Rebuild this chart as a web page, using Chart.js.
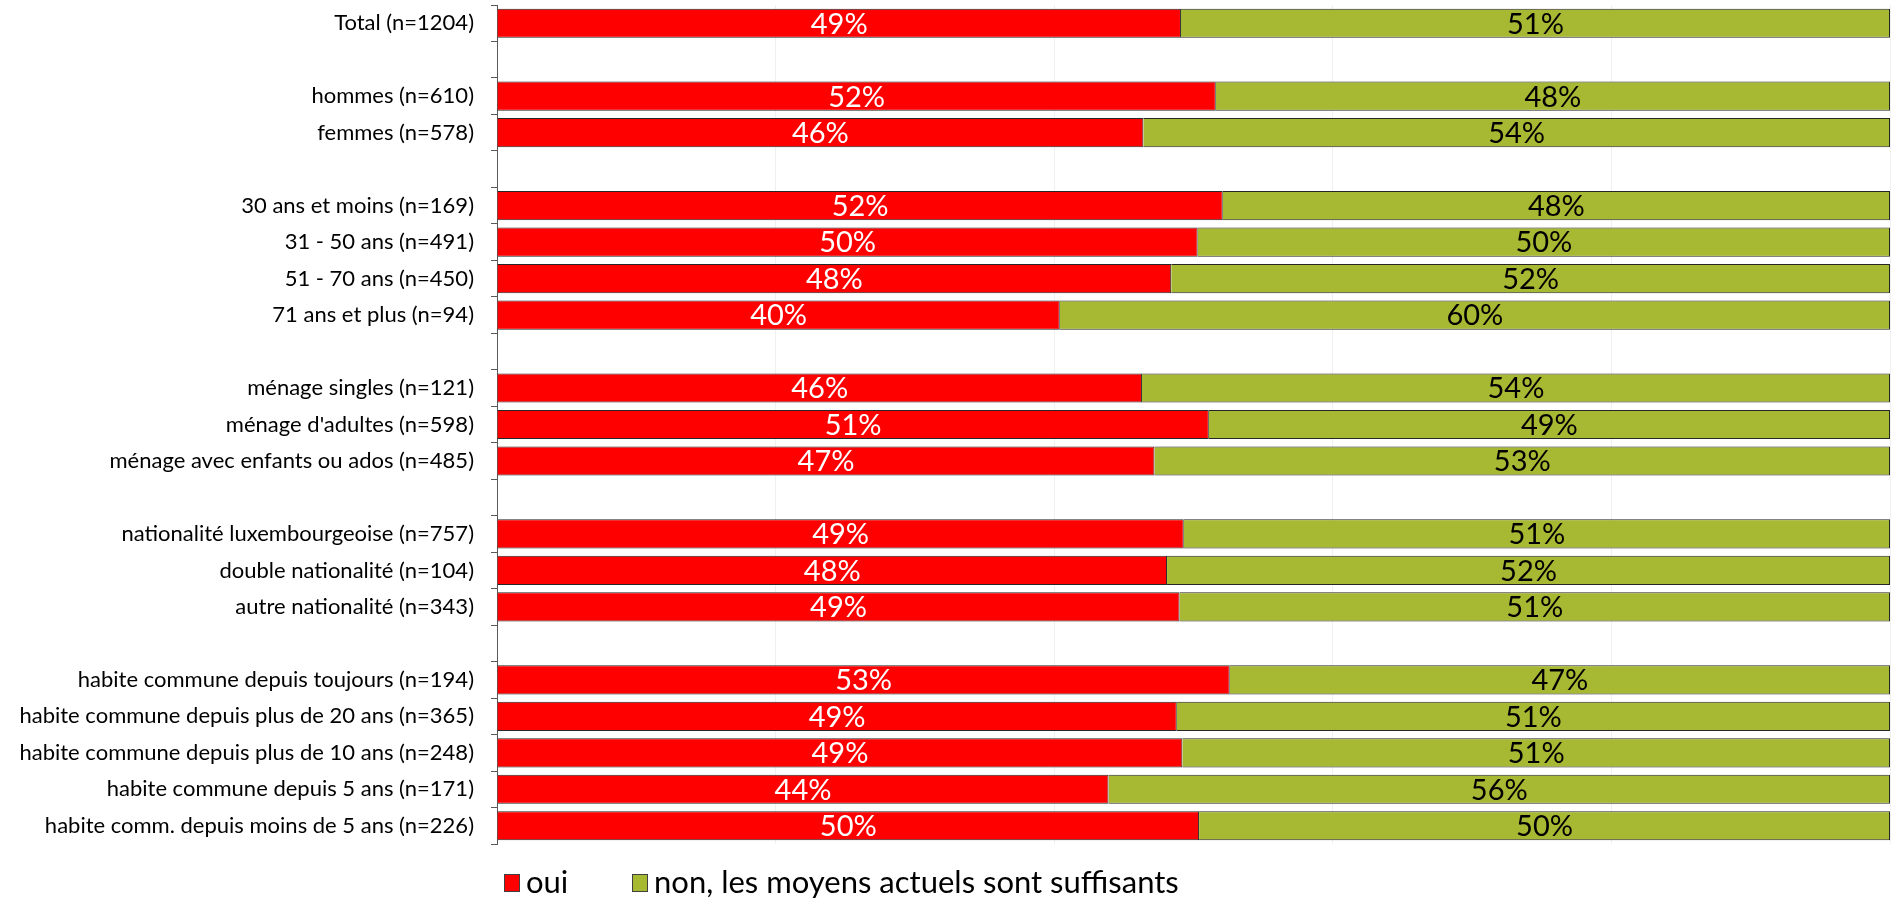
<!DOCTYPE html>
<html>
<head>
<meta charset="utf-8">
<script src="https://cdn.jsdelivr.net/npm/chart.js@4.4.1/dist/chart.umd.min.js"></script>
<style>
html, body { margin: 0; padding: 0; background: #fff; }
</style>
</head>
<body>
<canvas id="chart" width="1891" height="899"></canvas>
<script>
//Chart data ('' entries are the blank spacer rows between groups)
const categories = [
    'Total (n=1204)',
    '',
    'hommes (n=610)',
    'femmes (n=578)',
    '',
    '30 ans et moins (n=169)',
    '31 - 50 ans (n=491)',
    '51 - 70 ans (n=450)',
    '71 ans et plus (n=94)',
    '',
    'ménage singles (n=121)',
    "ménage d'adultes (n=598)",
    'ménage avec enfants ou ados (n=485)',
    '',
    'nationalité luxembourgeoise (n=757)',
    'double nationalité (n=104)',
    'autre nationalité (n=343)',
    '',
    'habite commune depuis toujours (n=194)',
    'habite commune depuis plus de 20 ans (n=365)',
    'habite commune depuis plus de 10 ans (n=248)',
    'habite commune depuis 5 ans (n=171)',
    'habite comm. depuis moins de 5 ans (n=226)'
];
const ouiValues = [49.1, null, 51.6, 46.4, null, 52.1, 50.3, 48.4, 40.4, null, 46.3, 51.1, 47.2, null, 49.3, 48.1, 49.0, null, 52.6, 48.8, 49.2, 43.9, 50.4];
const nonValues = [50.9, null, 48.4, 53.6, null, 47.9, 49.7, 51.6, 59.6, null, 53.7, 48.9, 52.8, null, 50.7, 51.9, 51.0, null, 47.4, 51.2, 50.8, 56.1, 49.6];
const seriesNames = ['oui', 'non, les moyens actuels sont suffisants'];
const xTicks = [0, 20, 40, 60, 80, 100]; //faint vertical grid steps

const fontFamily = 'Lato, "Open Sans", sans-serif';

//percent labels in the middle of every bar segment
const barLabels = {
    id: 'barLabels',
    afterDatasetsDraw(chart) {
        const ctx = chart.ctx;
        chart.data.datasets.forEach((ds, i) => {
            const meta = chart.getDatasetMeta(i);
            meta.data.forEach((bar, j) => {
                const v = ds.data[j];
                if (v == null) return;
                const p = bar.getProps(['x', 'y', 'base'], true);
                ctx.save();
                ctx.fillStyle = ds.labelColor;
                ctx.font = '29px ' + fontFamily;
                ctx.textAlign = 'center';
                ctx.textBaseline = 'middle';
                ctx.fillText(Math.round(v) + '%', (p.x + p.base) / 2, p.y + 1);
                ctx.restore();
            });
        });
    }
};

//legend drawn under the plot, starting at the axis
const bottomLegend = {
    id: 'bottomLegend',
    afterDraw(chart) {
        const ctx = chart.ctx;
        const area = chart.chartArea;
        const y = area.bottom + 39;
        const offsets = [7, 135];
        chart.data.datasets.forEach((ds, i) => {
            const x = area.left + offsets[i];
            ctx.save();
            ctx.fillStyle = ds.backgroundColor;
            ctx.fillRect(x, y - 9, 16, 18);
            ctx.strokeStyle = '#404040';
            ctx.lineWidth = 1;
            ctx.strokeRect(x + 0.5, y - 8.5, 15, 17);
            ctx.fillStyle = '#000';
            ctx.font = '31px ' + fontFamily;
            ctx.textAlign = 'left';
            ctx.textBaseline = 'middle';
            ctx.fillText(ds.label, x + 22, y);
            ctx.restore();
        });
    }
};

const ctx = document.getElementById('chart').getContext('2d');
new Chart(ctx, {
    type: 'bar',
    data: {
        labels: categories,
        datasets: [{
            label: seriesNames[0],
            data: ouiValues,
            backgroundColor: '#FF0000',
            borderColor: '#262626',
            borderWidth: 1,
            labelColor: '#ffffff'
        }, {
            label: seriesNames[1],
            data: nonValues,
            backgroundColor: '#A7B832',
            borderColor: '#262626',
            borderWidth: 1,
            labelColor: '#000000'
        }]
    },
    options: {
        indexAxis: 'y',
        responsive: false,
        animation: false,
        devicePixelRatio: 1,
        layout: { padding: { top: 5, right: 1, bottom: 55, left: 0 } },
        datasets: { bar: { categoryPercentage: 1, barPercentage: 0.8 } },
        plugins: {
            legend: { display: false },
            tooltip: { enabled: false }
        },
        scales: {
            x: {
                stacked: true,
                min: 0,
                max: 100,
                afterBuildTicks: (scale) => { scale.ticks = xTicks.map(v => ({ value: v })); },
                ticks: { display: false },
                grid: { color: '#f0f0f0', drawTicks: false },
                border: { display: false }
            },
            y: {
                stacked: true,
                afterFit: (scale) => {
                    scale.width = 497;
                    scale.paddingTop = 0; //let the first row sit at the top edge
                    scale.paddingBottom = 0;
                },
                ticks: {
                    autoSkip: false,
                    color: '#000',
                    padding: 17,
                    font: { family: fontFamily, size: 22 }
                },
                grid: {
                    offset: true,
                    drawOnChartArea: false,
                    drawTicks: true,
                    tickLength: 6,
                    color: '#595959'
                },
                border: { display: true, color: '#595959', width: 1 }
            }
        }
    },
    plugins: [barLabels, bottomLegend]
});
</script>
</body>
</html>
